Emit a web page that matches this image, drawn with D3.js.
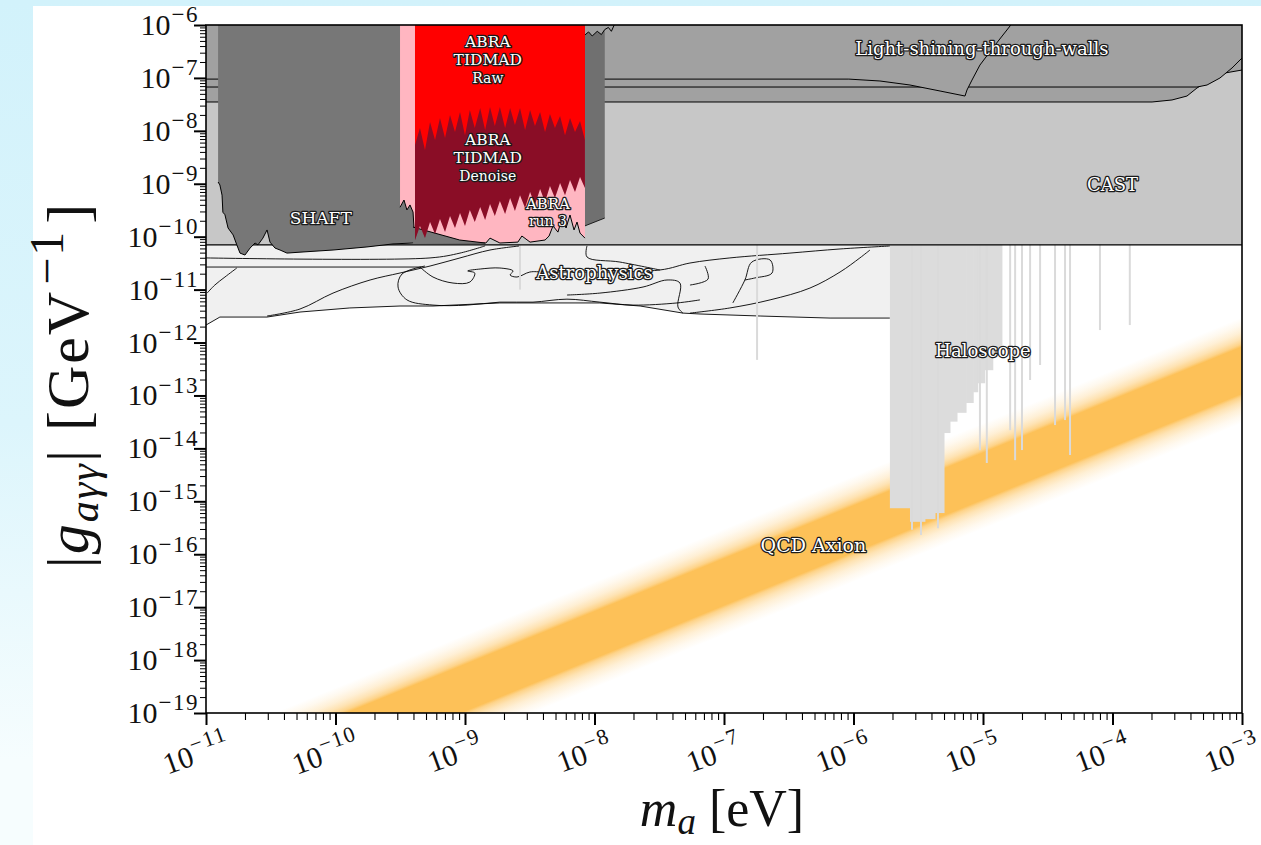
<!DOCTYPE html>
<html>
<head>
<meta charset="utf-8">
<script src="https://cdn.jsdelivr.net/npm/d3@7"></script>
<style>
  body { margin: 0; background: #d5f4fd; }
  svg { display: block; }
  .lbl { fill: #fff; stroke: #1b1b1b; stroke-width: 2.6px; paint-order: stroke; stroke-linejoin: round; font-family: "DejaVu Serif", serif; text-anchor: middle; }
  .tick-lbl { font-family: "Liberation Serif", serif; fill: #111; }
</style>
</head>
<body>
<svg id="chart" width="1261" height="845"></svg>
<script>
// ---- data (mass in eV, coupling in GeV^-1) ----
const xTickExps = [-11, -10, -9, -8, -7, -6, -5, -4, -3];
const yTickExps = [-6, -7, -8, -9, -10, -11, -12, -13, -14, -15, -16, -17, -18, -19];

const castLimit = 7.0e-11;

// light-shining-through-walls, three overlapping exclusions
const lswA = [[1e-11, 1e-6], [1e-11, 9.5e-8], [9.2e-7, 9.5e-8], [1.6e-6, 8.75e-8], [2.73e-6, 7.35e-8], [4.66e-6, 5.66e-8],
  [7.26e-6, 4.55e-8], [7.52e-6, 5.91e-8], [8.22e-6, 9.1e-8], [9.47e-6, 1.75e-7], [1.24e-5, 4.19e-7], [1.64e-5, 1e-6]];
const lswB = [[1e-11, 1e-6], [1e-11, 6.73e-8], [4.49e-4, 6.73e-8], [5.37e-4, 7.35e-8], [6.76e-4, 9.97e-8],
  [8.37e-4, 1.54e-7], [1e-3, 2.38e-7], [1e-3, 1e-6]];
const lswC = [[1e-11, 1e-6], [1e-11, 3.51e-8], [2.02e-4, 3.51e-8], [2.88e-4, 3.83e-8], [3.76e-4, 4.55e-8],
  [4.49e-4, 6.45e-8], [5.66e-4, 9.1e-8], [7.4e-4, 1.24e-7], [1e-3, 1.41e-7], [1e-3, 1e-6]];

const shaftEdge = [[1.24e-11, 1.08e-9], [1.28e-11, 9.5e-10], [1.33e-11, 6.1e-10], [1.35e-11, 2.9e-10], [1.40e-11, 2.6e-10],
  [1.48e-11, 1.46e-10], [1.62e-11, 1.08e-10], [1.73e-11, 7.0e-11], [1.83e-11, 4.9e-11], [2.0e-11, 4.5e-11],
  [2.19e-11, 6.1e-11], [2.39e-11, 7.6e-11], [2.52e-11, 7.0e-11], [2.75e-11, 9.4e-11], [2.96e-11, 1.34e-10],
  [3.12e-11, 7.9e-11], [3.41e-11, 6.1e-11], [3.73e-11, 5.6e-11], [4.22e-11, 4.9e-11], [5.32e-11, 5.1e-11],
  [9.57e-11, 5.6e-11], [1.75e-10, 6.4e-11], [2.78e-10, 7.3e-11], [3.97e-10, 7.6e-11], [4.11e-10, 7.6e-11]];

const darkBlock = [[8.44e-9, 6.5e-7], [9.0e-9, 7.4e-7], [9.6e-9, 6.2e-7], [1.05e-8, 7.6e-7], [1.13e-8, 6.6e-7],
  [1.2e-8, 8.2e-7], [1.2e-8, 2.25e-10], [8.44e-9, 1.6e-10]];
const darkBlockTop = [[8.44e-9, 6.5e-7], [9.0e-9, 7.4e-7], [9.6e-9, 6.2e-7], [1.05e-8, 7.6e-7], [1.13e-8, 6.6e-7],
  [1.2e-8, 8.2e-7], [1.28e-8, 9.0e-7], [1.35e-8, 7.6e-7], [1.42e-8, 1e-6]];

// ABRA run 3 (pink), lower edge from right to left
const abraRun3Edge = [[8.44e-9, 9.4e-11], [7.73e-9, 1.17e-10], [7.33e-9, 1.89e-10], [6.95e-9, 1.34e-10], [6.47e-9, 2.57e-10],
  [6.03e-9, 1.46e-10], [5.61e-9, 2.25e-10], [5.22e-9, 1.22e-10], [4.78e-9, 1.6e-10], [4.46e-9, 1.03e-10],
  [4.15e-9, 8.65e-11], [3.18e-9, 7.9e-11], [2.75e-9, 1.03e-10], [2.56e-9, 7.9e-11], [1.86e-9, 7.6e-11],
  [1.56e-9, 9.4e-11], [1.45e-9, 7.6e-11], [4.11e-10, 7.6e-11], [3.97e-10, 2.92e-10], [3.76e-10, 3.98e-10],
  [3.56e-10, 3.2e-10], [3.38e-10, 4.93e-10], [3.15e-10, 3.6e-10]];
const shaftWedge = [[3.97e-10, 1.52e-10], [9.1e-10, 8.65e-11], [1.43e-9, 7.6e-11], [3.97e-10, 7.3e-11]];

// ABRA TIDMAD limits on a common mass grid
const abraMass = [4.11e-10, 4.49e-10, 4.91e-10, 5.37e-10, 5.87e-10, 6.41e-10, 7.01e-10, 7.66e-10, 8.37e-10, 9.15e-10,
  1.0e-9, 1.09e-9, 1.19e-9, 1.31e-9, 1.43e-9, 1.56e-9, 1.70e-9, 1.86e-9, 2.04e-9, 2.23e-9, 2.43e-9, 2.66e-9,
  2.91e-9, 3.18e-9, 3.47e-9, 3.80e-9, 4.15e-9, 4.53e-9, 4.95e-9, 5.42e-9, 5.92e-9, 6.47e-9, 7.07e-9, 7.73e-9, 8.44e-9];
const tidmadDenoise = [8.6e-11, 1.59e-10, 9.4e-11, 1.89e-10, 1.12e-10, 2.16e-10, 1.22e-10, 2.46e-10, 1.46e-10, 2.8e-10,
  1.59e-10, 3.2e-10, 1.89e-10, 3.64e-10, 2.07e-10, 4.15e-10, 2.46e-10, 4.7e-10, 2.68e-10, 5.4e-10, 3.05e-10, 6.1e-10,
  3.5e-10, 7.0e-10, 4.0e-10, 8.0e-10, 4.5e-10, 9.1e-10, 5.4e-10, 1.03e-9, 6.1e-10, 1.18e-9, 7.0e-10, 1.34e-9, 8.3e-10];
const tidmadRaw = [5.4e-9, 1.13e-8, 4.35e-9, 1.47e-8, 6.7e-9, 1.75e-8, 7.3e-9, 1.99e-8, 9.5e-9, 2.27e-8,
  8.3e-9, 2.48e-8, 1.13e-8, 2.70e-8, 1.04e-8, 2.82e-8, 1.23e-8, 2.82e-8, 1.13e-8, 2.70e-8, 1.29e-8, 2.70e-8,
  1.04e-8, 2.48e-8, 1.23e-8, 2.27e-8, 9.5e-9, 2.08e-8, 1.13e-8, 1.91e-8, 8.3e-9, 1.75e-8, 9.5e-9, 1.53e-8, 6.7e-9];

// astrophysics band: lower edge and contour lines
const astroLower = [[1e-11, 2.14e-12], [1.28e-11, 3.03e-12], [2.96e-11, 3.03e-12], [5.32e-11, 3.77e-12], [1.29e-10, 4.5e-12],
  [3.15e-10, 4.9e-12], [5.66e-10, 4.9e-12], [1.86e-9, 5.6e-12], [1.1e-8, 5.6e-12], [2.25e-8, 4.9e-12],
  [4.82e-8, 3.6e-12], [6.53e-8, 3.46e-12], [1.9e-7, 3.17e-12], [6.59e-7, 2.9e-12], [1.91e-6, 2.9e-12]];
const astroLines = [
  [[1e-11, 3.97e-11], [5.37e-10, 3.97e-11], [9.15e-10, 4.9e-11], [1.43e-9, 6.7e-11]],
  [[1e-11, 2.67e-11], [4.6e-10, 2.67e-11]],
  [[1.02e-11, 8.6e-12], [1.17e-11, 1.22e-11], [1.4e-11, 1.73e-11], [1.73e-11, 2.56e-11]],
  [[2.96e-11, 3.17e-12], [5.32e-11, 4.3e-12], [9.57e-11, 8.6e-12], [1.85e-10, 1.52e-11], [3.15e-10, 2.06e-11],
    [5.37e-10, 2.79e-11], [9.15e-10, 3.97e-11], [1.56e-9, 5.6e-11], [2.66e-9, 6.7e-11]],
  [[4.91e-10, 2.79e-11], [3.26e-10, 1.97e-11], [3.04e-10, 1.12e-11], [3.56e-10, 6.4e-12], [5.66e-10, 5.1e-12],
    [1.04e-9, 5.1e-12], [1.86e-9, 5.8e-12], [3.35e-9, 5.8e-12], [6.13e-9, 6.6e-12], [1.1e-8, 5.8e-12],
    [1.98e-8, 5.1e-12], [4.34e-8, 5.6e-12], [6.53e-8, 6.4e-12]],
  [[4.49e-10, 2.67e-11], [5.66e-10, 1.73e-11], [8.08e-10, 1.33e-11], [1.09e-9, 1.39e-11], [1.19e-9, 2.06e-11],
    [1.05e-9, 2.25e-11], [1.31e-9, 2.45e-11], [1.86e-9, 2.56e-11], [2.35e-9, 2.25e-11], [2.23e-9, 1.89e-11],
    [2.52e-9, 1.73e-11], [3.17e-9, 2.15e-11], [4.15e-9, 2.15e-11], [3.2e-8, 2.35e-11], [5.46e-8, 3.18e-11],
    [1.11e-7, 3.97e-11], [3.23e-7, 4.9e-11], [7.87e-7, 5.86e-11], [1.91e-6, 6.67e-11]],
  [[8.75e-9, 6.7e-11], [8.75e-9, 4.14e-11], [1.57e-8, 3.32e-11], [3.2e-8, 2.35e-11]],
  [[6.13e-9, 7.9e-12], [1.1e-8, 8.6e-12], [2.37e-8, 1.12e-11], [3.63e-8, 1.52e-11], [4.57e-8, 1.33e-11],
    [4.41e-8, 4.7e-12], [4.82e-8, 3.6e-12]],
  [[5.46e-8, 3.6e-12], [1.11e-7, 4.5e-12], [2.27e-7, 6.4e-12], [4.61e-7, 1.07e-11], [7.87e-7, 2.15e-11],
    [1.12e-6, 3.97e-11], [1.34e-6, 5.6e-11]],
  [[7.13e-8, 2.79e-11], [7.53e-8, 1.58e-11], [5.46e-8, 1.22e-11]],
  [[1.17e-7, 5.6e-12], [1.45e-7, 1.52e-11], [1.64e-7, 3.32e-11], [2.27e-7, 3.63e-11], [2.35e-7, 2.06e-11],
    [1.73e-7, 1.66e-11], [1.45e-7, 1.52e-11]]
];

// haloscopes: [m low, m high, reach] steps and thin lines [m, reach]
const haloSteps = [[1.91e-6, 2.73e-6, 7.4e-16], [2.73e-6, 3.56e-6, 4.1e-16], [3.56e-6, 4.26e-6, 4.6e-16],
  [4.26e-6, 5.0e-6, 6.0e-16], [5.0e-6, 5.56e-6, 1.95e-14], [5.56e-6, 6.3e-6, 3.2e-14], [6.3e-6, 7.4e-6, 4.7e-14],
  [7.4e-6, 8.4e-6, 7.2e-14], [8.4e-6, 9.1e-6, 1.15e-13], [9.1e-6, 1.03e-5, 1.7e-13], [1.03e-5, 1.19e-5, 3.0e-13],
  [1.19e-5, 1.4e-5, 6.0e-13]];
const haloLines = [[2.66e-9, 1.0e-11], [1.8e-7, 4.7e-13], [2.83e-6, 2.9e-16], [3.32e-6, 2.3e-16], [4.49e-6, 3.1e-16],
  [9.47e-6, 9.3e-15], [1.07e-5, 5.3e-15], [1.62e-5, 2.2e-14], [1.77e-5, 6.0e-15], [2.0e-5, 9.3e-15],
  [2.31e-5, 1.96e-13], [2.76e-5, 3.76e-13], [3.6e-5, 2.76e-14], [4.3e-5, 3.43e-14], [4.7e-5, 7.5e-15],
  [8.0e-5, 1.72e-12], [1.36e-4, 2.14e-12]];

// QCD axion band
const qcdMass = [1e-11, 1e-3];
const qcdCenter = [3.0e-21, 3.0e-13];
const qcdUpper = [3.0e-20, 3.0e-12];
const qcdLower = [3.0e-22, 3.0e-14];

// ---- chart ----
const W = 1261, H = 845;
const margin = {top: 25, right: 19, bottom: 132, left: 206};
const svg = d3.select('#chart');
const defs = svg.append('defs');

const x = d3.scaleLog().domain([1e-11, 1e-3]).range([margin.left, W - margin.right]);
const y = d3.scaleLog().domain([1e-19, 1e-6]).range([H - margin.bottom, margin.top]);
const line = d3.line().x(d => x(d[0])).y(d => y(d[1]));

// page background
const bg = defs.append('linearGradient').attr('id', 'bg').attr('x1', 0).attr('y1', 0).attr('x2', 0).attr('y2', 1);
bg.append('stop').attr('offset', 0).attr('stop-color', '#d2f2fb');
bg.append('stop').attr('offset', 0.5).attr('stop-color', '#dcf5fc');
bg.append('stop').attr('offset', 0.9).attr('stop-color', '#f6fdfe');
svg.append('rect').attr('width', W).attr('height', H).attr('fill', 'url(#bg)');
svg.append('rect').attr('x', 33).attr('y', 6).attr('width', W - 33).attr('height', H - 6).attr('fill', '#fff');

defs.append('clipPath').attr('id', 'plotClip').append('rect')
  .attr('x', margin.left).attr('y', margin.top)
  .attr('width', W - margin.left - margin.right).attr('height', H - margin.top - margin.bottom);
const plot = svg.append('g').attr('clip-path', 'url(#plotClip)');

defs.append('filter').attr('id', 'soft').append('feGaussianBlur').attr('stdDeviation', '0.6 0.3');

function region(pts, fill, edge) {
  const p = plot.append('path').attr('d', line(pts) + 'Z').attr('fill', fill);
  if (edge) outline(edge);
  return p;
}
function outline(pts, w) {
  plot.append('path').attr('d', line(pts)).attr('fill', 'none')
    .attr('stroke', '#000').attr('stroke-width', w || 1).attr('stroke-linejoin', 'round');
}

// QCD band with soft edges
const p1 = [x(qcdMass[0]), y(qcdCenter[0])], p2 = [x(qcdMass[1]), y(qcdCenter[1])];
const len = Math.hypot(p2[0] - p1[0], p2[1] - p1[1]);
const ux = (p2[0] - p1[0]) / len, uy = (p2[1] - p1[1]) / len;
const half = (y(qcdLower[1]) - y(qcdUpper[1])) / 2 * ux;
const cx = (p1[0] + p2[0]) / 2, cy = (p1[1] + p2[1]) / 2;
const qg = defs.append('linearGradient').attr('id', 'qcd').attr('gradientUnits', 'userSpaceOnUse')
  .attr('x1', cx + uy * half).attr('y1', cy - ux * half)
  .attr('x2', cx - uy * half).attr('y2', cy + ux * half);
[[0, 0], [0.07, 0.1], [0.14, 0.25], [0.2, 0.45], [0.25, 0.7], [0.28, 1], [0.72, 1], [0.75, 0.7], [0.8, 0.45], [0.86, 0.25], [0.93, 0.1], [1, 0]]
  .forEach(([o, a]) => qg.append('stop').attr('offset', o).attr('stop-color', '#fdc158').attr('stop-opacity', a));
const qcdPoly = qcdMass.map((m, i) => [m, qcdUpper[i]]).concat(qcdMass.map((m, i) => [m, qcdLower[i]]).reverse());
plot.append('path').attr('d', line(qcdPoly) + 'Z').attr('fill', 'url(#qcd)');

// astrophysics
region([[1e-11, castLimit], [1.91e-6, castLimit]].concat(astroLower.slice().reverse()), '#f0f0f0');
outline(astroLower, 0.9);
const smooth = d3.line().x(d => x(d[0])).y(d => y(d[1])).curve(d3.curveCatmullRom.alpha(0.5));
astroLines.forEach(l => plot.append('path').attr('d', smooth(l))
  .attr('fill', 'none').attr('stroke', '#000').attr('stroke-width', 0.9));

// haloscopes
plot.selectAll('rect.halo').data(haloSteps).join('rect').attr('class', 'halo')
  .attr('x', d => x(d[0])).attr('width', d => x(d[1]) - x(d[0]) + 0.5)
  .attr('y', y(castLimit)).attr('height', d => y(d[2]) - y(castLimit))
  .attr('fill', '#dcdcdc');
plot.selectAll('line.halo').data(haloLines).join('line').attr('class', 'halo')
  .attr('x1', d => x(d[0])).attr('x2', d => x(d[0]))
  .attr('y1', y(castLimit)).attr('y2', d => y(d[1]))
  .attr('stroke', '#dadada').attr('stroke-width', 2);

// CAST
region([[1e-11, 1e-6], [1e-3, 1e-6], [1e-3, castLimit], [1e-11, castLimit]], '#c7c7c7');
outline([[1e-11, castLimit], [1e-3, castLimit]], 1.2);

// light shining through walls
region(lswC, '#a1a1a1', lswC.slice(1, -1));
region(lswB, '#a1a1a1', lswB.slice(1, -1));
region(lswA, '#a1a1a1', lswA.slice(1));

// SHAFT
region([[1.24e-11, 1e-6]].concat(shaftEdge, [[4.11e-10, 1e-6]]), '#777777', shaftEdge);

// dark block
region(darkBlock, '#707070', darkBlockTop);
outline([darkBlock[6], darkBlock[7]], 0.8);

// ABRA run 3
region([[3.15e-10, 1e-6], [8.44e-9, 1e-6]].concat(abraRun3Edge), '#ffb6c1', abraRun3Edge);
region(shaftWedge, '#777777', shaftWedge.slice(0, 3));

// ABRA TIDMAD
const abraTop = [[abraMass[abraMass.length - 1], 1e-6], [abraMass[0], 1e-6]];
region(abraMass.map((m, i) => [m, tidmadDenoise[i]]).concat(abraTop), '#8a0a26').attr('filter', 'url(#soft)');
region(abraMass.map((m, i) => [m, tidmadRaw[i]]).concat(abraTop), '#ff0000').attr('filter', 'url(#soft)');

// frame
svg.append('rect').attr('x', margin.left).attr('y', margin.top)
  .attr('width', W - margin.left - margin.right).attr('height', H - margin.top - margin.bottom)
  .attr('fill', 'none').attr('stroke', '#000').attr('stroke-width', 1.6);

// axes
const xMajor = xTickExps.map(e => Math.pow(10, e));
const xMinor = xTickExps.slice(0, -1).flatMap(e => d3.range(2, 10).map(k => k * Math.pow(10, e)));
const yMajor = yTickExps.map(e => Math.pow(10, e));
const yMinor = yTickExps.slice(1).flatMap(e => d3.range(2, 10).map(k => k * Math.pow(10, e)));

const gx = svg.append('g').attr('transform', `translate(0,${H - margin.bottom})`);
gx.append('g').call(d3.axisBottom(x).tickValues(xMinor).tickSize(7).tickFormat('')).call(g => g.selectAll('line').attr('stroke-width', 1.1));
gx.append('g').call(d3.axisBottom(x).tickValues(xMajor).tickSize(12).tickFormat('')).call(g => g.selectAll('line').attr('stroke-width', 2));
gx.selectAll('.domain').remove();

const gy = svg.append('g').attr('transform', `translate(${margin.left},0)`);
gy.append('g').call(d3.axisLeft(y).tickValues(yMinor).tickSize(6).tickFormat('')).call(g => g.selectAll('line').attr('stroke-width', 1));
gy.append('g').call(d3.axisLeft(y).tickValues(yMajor).tickSize(12).tickFormat('')).call(g => g.selectAll('line').attr('stroke-width', 2));
gy.selectAll('.domain').remove();

function powText(t, e, base, sup) {
  t.append('tspan').attr('font-size', base).text('10');
  t.append('tspan').attr('font-size', sup).attr('dx', 1).attr('dy', -base * 0.42).attr('letter-spacing', 1.5).text('\u2212' + Math.abs(e));
}
xTickExps.forEach(e => {
  const t = svg.append('text').attr('class', 'tick-lbl').attr('text-anchor', 'middle')
    .attr('transform', `translate(${x(Math.pow(10, e)) - 6},${H - margin.bottom + 50}) rotate(-20)`);
  powText(t, e, 30, 22);
});
yTickExps.forEach(e => {
  const t = svg.append('text').attr('class', 'tick-lbl').attr('text-anchor', 'end')
    .attr('x', margin.left - 7).attr('y', y(Math.pow(10, e)) + 10);
  powText(t, e, 30, 23);
});

// axis titles
const xt = svg.append('text').attr('class', 'tick-lbl').attr('text-anchor', 'middle')
  .attr('x', 722).attr('y', 826).attr('font-size', 52);
xt.append('tspan').attr('font-style', 'italic').text('m');
xt.append('tspan').attr('font-style', 'italic').attr('font-size', 37).attr('dy', 8).text('a');
xt.append('tspan').attr('dy', -8).text(' [eV]');

const yt = svg.append('text').attr('class', 'tick-lbl').attr('text-anchor', 'middle')
  .attr('transform', `translate(88,385) rotate(-90)`).attr('font-size', 60).attr('letter-spacing', 2);
yt.append('tspan').text('|');
yt.append('tspan').attr('font-style', 'italic').text('g');
yt.append('tspan').attr('font-style', 'italic').attr('font-size', 42).attr('dy', 10).text('aγγ');
yt.append('tspan').attr('dy', -10).text('| [GeV');
yt.append('tspan').attr('font-size', 48).attr('dx', 5).attr('dy', -25).attr('letter-spacing', 2).text('\u22121');
yt.append('tspan').attr('dx', 6).attr('dy', 25).text(']');

// region labels: line offsets in px, sub lines smaller
const notes = [
  {lines: ['Light-shining-through-walls'], m: 9.8e-6, g: 3.67e-7, size: 18},
  {lines: ['CAST'], m: 1e-4, g: 1e-9, size: 18},
  {lines: ['SHAFT'], m: 7.7e-11, g: 2.26e-10, size: 17},
  {lines: ['ABRA', 'TIDMAD', 'Raw'], m: 1.5e-9, g: 4.77e-7, size: 15.5, gaps: [18, 18], small: 2},
  {lines: ['ABRA', 'TIDMAD', 'Denoise'], m: 1.5e-9, g: 6.7e-9, size: 15.5, gaps: [18, 18], small: 2},
  {lines: ['ABRA', 'run 3'], m: 4.37e-9, g: 4.15e-10, size: 15, gaps: [17.5], small: 1}
  , {lines: ['Astrophysics'], m: 1e-8, g: 2.15e-11, size: 18},
  {lines: ['Haloscope'], m: 1e-5, g: 7.2e-13, size: 18},
  {lines: ['QCD Axion'], m: 4.9e-7, g: 1.49e-16, size: 19}
];
notes.forEach(n => {
  const t = svg.append('text').attr('class', 'lbl').attr('x', x(n.m)).attr('y', y(n.g))
    .attr('dominant-baseline', 'central').attr('font-size', n.size);
  n.lines.forEach((s, i) => t.append('tspan').attr('x', x(n.m)).attr('dy', i ? n.gaps[i - 1] : 0)
    .attr('font-size', i === n.small ? 14 : n.size).text(s));
});
</script>
</body>
</html>
